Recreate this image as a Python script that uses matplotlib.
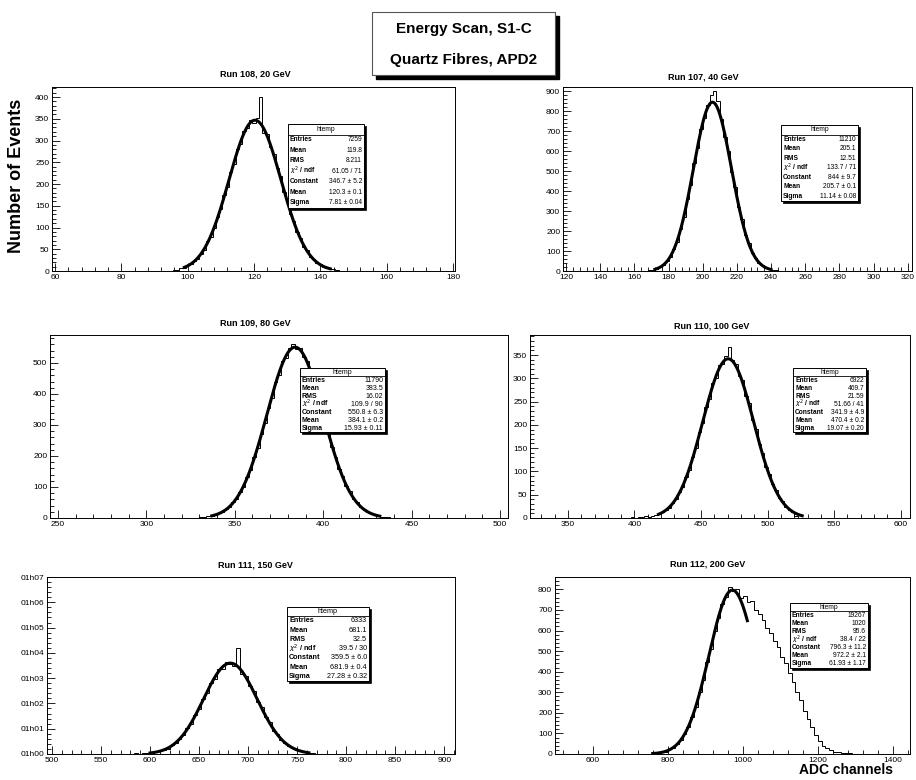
import numpy as np
import matplotlib
matplotlib.use('Agg')
import matplotlib.pyplot as plt
from matplotlib.ticker import MultipleLocator, AutoMinorLocator, FixedLocator, FixedFormatter
from matplotlib.patches import Rectangle

plt.rcParams['font.family'] = ['Liberation Sans', 'DejaVu Sans']

W, H = 916, 780

# ---------------- data ----------------
titles = ["Run 108, 20 GeV", "Run 107, 40 GeV", "Run 109, 80 GeV",
          "Run 110, 100 GeV", "Run 111, 150 GeV", "Run 112, 200 GeV"]

# histogram: first bin left edge, bin width, counts
p1_edge0, p1_binw = 95.5, 1.0
p1_counts = [2, 3, 6, 7, 13, 15, 24, 28, 40, 49, 68, 78, 98, 125, 142, 175, 192, 228,
             246, 280, 292, 322, 328, 348, 340, 352, 400, 318, 315, 284, 270, 236, 218,
             182, 163, 132, 116, 90, 77, 56, 48, 33, 28, 18, 16, 9, 8, 4, 4, 2, 1]

p2_edge0, p2_binw = 164.0, 2.0
p2_counts = [1, 2, 3, 7, 10, 20, 28, 50, 70, 110, 146, 212, 270, 360, 432, 540, 615,
             712, 765, 830, 880, 900, 850, 760, 672, 600, 495, 420, 322, 258, 182, 140,
             90, 66, 40, 28, 15, 11, 5, 3, 2, 1]

p3_edge0, p3_binw = 328.0, 2.0
p3_counts = [1, 2, 3, 5, 8, 9, 15, 18, 28, 35, 50, 61, 85, 100, 132, 155, 196, 225,
             272, 305, 356, 388, 438, 462, 505, 515, 548, 560, 545, 548, 520, 505, 465,
             440, 390, 360, 308, 276, 228, 198, 158, 135, 102, 86, 62, 52, 36, 29, 19,
             15, 10, 8, 4, 4, 2, 1, 1]

p4_edge0, p4_binw = 392.5, 2.5
p4_counts = [1, 0, 2, 1, 3, 2, 4, 3, 5, 6, 9, 12, 18, 22, 33, 40, 56, 66, 88, 104,
             132, 150, 184, 204, 238, 255, 290, 300, 328, 330, 348, 368, 340, 330, 305,
             296, 262, 248, 210, 192, 158, 140, 110, 95, 72, 60, 44, 36, 24, 18, 12, 4, 1]

p5_edge0, p5_binw = 576.0, 4.0
p5_counts = [1, 0, 2, 1, 3, 2, 5, 8, 10, 17, 21, 34, 42, 60, 74, 102, 118, 155, 176,
             218, 240, 282, 298, 335, 338, 362, 355, 350, 420, 318, 310, 268, 250, 205,
             184, 145, 126, 92, 78, 55, 45, 30, 24, 14, 12, 6, 5, 2, 1]

p6_edge0, p6_binw = 740.0, 10.0
p6_counts = [1, 2, 3, 5, 8, 12, 22, 30, 50, 66, 98, 130, 180, 228, 300, 360, 445, 512,
             598, 660, 728, 762, 812, 790, 800, 760, 770, 740, 742, 700, 680, 650, 610,
             590, 548, 520, 470, 440, 392, 350, 300, 262, 210, 172, 130, 92, 62, 40, 28,
             18, 12, 10, 6, 5, 3, 2, 2, 1, 1]

# gaussian fit parameters (constant, mean, sigma) and fit ranges
fit_const = [346.7, 844.0, 550.8, 341.9, 359.5, 796.3]
fit_mean = [120.3, 205.7, 384.1, 470.4, 681.9, 972.2]
fit_sigma = [7.81, 11.14, 15.93, 19.07, 27.28, 61.93]
fit_lo = [99, 172, 337, 418, 600, 760]
fit_hi = [143, 240, 432, 526, 762, 1012]

# stats boxes text
stat_labels = ["Entries", "Mean", "RMS", r"$\chi^2$ / ndf", "Constant", "Mean", "Sigma"]
stat_values = [
    ["7259", "119.8", "8.211", "61.05 / 71", "346.7 \u00b1 5.2", "120.3 \u00b1 0.1", "7.81 \u00b1 0.04"],
    ["11210", "205.1", "12.51", "133.7 / 71", "844 \u00b1 9.7", "205.7 \u00b1 0.1", "11.14 \u00b1 0.08"],
    ["11790", "383.5", "16.02", "109.9 / 90", "550.8 \u00b1 6.3", "384.1 \u00b1 0.2", "15.93 \u00b1 0.11"],
    ["6922", "469.7", "21.59", "51.66 / 41", "341.9 \u00b1 4.9", "470.4 \u00b1 0.2", "19.07 \u00b1 0.20"],
    ["6333", "681.1", "32.5", "39.5 / 30", "359.5 \u00b1 6.0", "681.9 \u00b1 0.4", "27.28 \u00b1 0.32"],
    ["19267", "1020", "95.6", "38.4 / 22", "796.3 \u00b1 11.2", "972.2 \u00b1 2.1", "61.93 \u00b1 1.17"],
]

# axis ranges / ticks
xlims = [(59.1, 180.6), (118.2, 322.5), (245.5, 504.5), (321.5, 607.0), (494.9, 911.0), (500.0, 1445.0)]
ylims = [(0, 423), (0, 920), (0, 590), (0, 393), (0, 700), (0, 860)]
xmajor = [20, 20, 50, 50, 50, 200]
ymajor = [50, 100, 100, 50, 100, 100]
p5_ytick_labels = ["01h00", "01h01", "01h02", "01h03", "01h04", "01h05", "01h06", "01h07"]

# ---------------- layout (pixels) ----------------
axes_px = [(52, 87, 455, 271), (563, 87, 912, 271),
           (50, 335, 508, 518), (530, 335, 910, 518),
           (47, 577, 455, 754), (555, 577, 910, 754)]
title_px = [(255, 74), (703, 77), (255, 323), (712, 326), (255, 565), (708, 564)]
stats_px = [(288, 124, 364, 208), (781, 125, 858, 201),
            (300, 368, 385, 432), (793, 368, 866, 432),
            (287, 607, 369, 681), (790, 603, 868, 668)]
stats_fs = [4.8, 4.8, 5.0, 4.8, 5.2, 4.8]

fig = plt.figure(figsize=(W / 100, H / 100), dpi=100)
fig.patch.set_facecolor('white')


def fx(x):
    return x / W


def fy(y):
    return 1 - y / H


all_counts = [p1_counts, p2_counts, p3_counts, p4_counts, p5_counts, p6_counts]
all_edge0 = [p1_edge0, p2_edge0, p3_edge0, p4_edge0, p5_edge0, p6_edge0]
all_binw = [p1_binw, p2_binw, p3_binw, p4_binw, p5_binw, p6_binw]

for i in range(6):
    l, t, r, b = axes_px[i]
    ax = fig.add_axes([fx(l), fy(b), (r - l) / W, (b - t) / H])
    counts = np.array(all_counts[i], dtype=float)
    edges = all_edge0[i] + all_binw[i] * np.arange(len(counts) + 1)
    ax.stairs(counts, edges, color='black', lw=0.7, baseline=0)
    xs = np.linspace(fit_lo[i], fit_hi[i], 300)
    ys = fit_const[i] * np.exp(-0.5 * ((xs - fit_mean[i]) / fit_sigma[i]) ** 2)
    ax.plot(xs, ys, color='black', lw=2.2)
    ax.set_xlim(*xlims[i])
    ax.set_ylim(*ylims[i])
    ax.xaxis.set_major_locator(MultipleLocator(xmajor[i]))
    ax.yaxis.set_major_locator(MultipleLocator(ymajor[i]))
    ax.xaxis.set_minor_locator(AutoMinorLocator(5))
    ax.yaxis.set_minor_locator(AutoMinorLocator(5))
    ax.tick_params(which='both', direction='in', top=False, right=False, labelsize=6,
                   width=0.6, pad=2)
    ax.tick_params(which='major', length=6)
    ax.tick_params(which='minor', length=3)
    for s in ax.spines.values():
        s.set_linewidth(0.7)
    if i == 4:
        ax.yaxis.set_major_locator(FixedLocator(list(range(0, 701, 100))))
        ax.yaxis.set_major_formatter(FixedFormatter(p5_ytick_labels))
    fig.text(fx(title_px[i][0]), fy(title_px[i][1]), titles[i], ha='center', va='center',
             fontsize=6.5, fontweight='bold')

    # stats box
    x0, y0, x1, y1 = stats_px[i]
    fig.patches.append(Rectangle((fx(x0 + 2), fy(y1 + 2)), (x1 - x0) / W, (y1 - y0) / H,
                                 transform=fig.transFigure, facecolor='black',
                                 edgecolor='black', lw=0.5, zorder=5))
    fig.patches.append(Rectangle((fx(x0), fy(y1)), (x1 - x0) / W, (y1 - y0) / H,
                                 transform=fig.transFigure, facecolor='white',
                                 edgecolor='black', lw=0.7, zorder=6))
    nrow = 8
    rh = (y1 - y0) / nrow
    fig.text(fx((x0 + x1) / 2), fy(y0 + rh * 0.5), "htemp", ha='center', va='center',
             fontsize=stats_fs[i], zorder=7)
    fig.lines.append(plt.Line2D([fx(x0), fx(x1)], [fy(y0 + rh), fy(y0 + rh)],
                                transform=fig.transFigure, color='black', lw=0.6, zorder=7))
    for k in range(7):
        yy = fy(y0 + rh * (k + 1.5))
        fig.text(fx(x0 + 2), yy, stat_labels[k], ha='left', va='center',
                 fontsize=stats_fs[i], fontweight='bold', zorder=7)
        fig.text(fx(x1 - 2), yy, stat_values[i][k], ha='right', va='center',
                 fontsize=stats_fs[i], zorder=7)

# main title box
bx0, by0, bx1, by1 = 372, 12, 555, 75
fig.patches.append(Rectangle((fx(bx0 + 4), fy(by1 + 4)), (bx1 - bx0) / W, (by1 - by0) / H,
                             transform=fig.transFigure, facecolor='black', edgecolor='black', zorder=5))
fig.patches.append(Rectangle((fx(bx0), fy(by1)), (bx1 - bx0) / W, (by1 - by0) / H,
                             transform=fig.transFigure, facecolor='white', edgecolor='#555555',
                             lw=0.8, zorder=6))
fig.text(fx((bx0 + bx1) / 2), fy(29), "Energy Scan, S1-C", ha='center', va='center',
         fontsize=11, fontweight='bold', zorder=7)
fig.text(fx((bx0 + bx1) / 2), fy(60), "Quartz Fibres, APD2", ha='center', va='center',
         fontsize=11, fontweight='bold', zorder=7)

fig.text(fx(17), fy(176), "Number of Events", rotation=90, ha='center', va='center',
         fontsize=13, fontweight='bold')
fig.text(fx(846), fy(770), "ADC channels", ha='center', va='center',
         fontsize=10, fontweight='bold')

fig.savefig('out.png', dpi=100, facecolor='white')
